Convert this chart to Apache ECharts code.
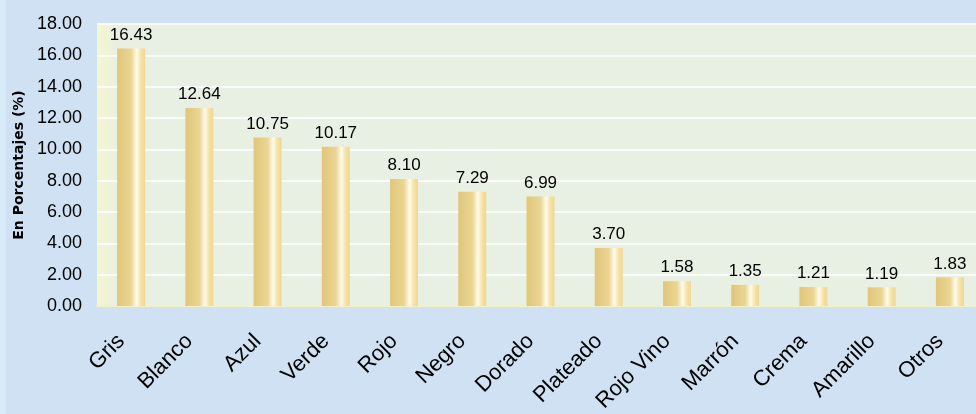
<!DOCTYPE html>
<html><head><meta charset="utf-8">
<script src="https://cdn.jsdelivr.net/npm/echarts@6/dist/echarts.min.js"></script>
<style>html,body{margin:0;padding:0;background:#cfe1f2;}#c{width:976px;height:414px;}</style>
</head><body><div id="c"></div>
<script>
const categories = ['Gris','Blanco','Azul','Verde','Rojo','Negro','Dorado','Plateado','Rojo Vino','Marrón','Crema','Amarillo','Otros'];
const values = [16.43,12.64,10.75,10.17,8.10,7.29,6.99,3.70,1.58,1.35,1.21,1.19,1.83];
const yTicks = {min:0, max:18, interval:2};

const chart = echarts.init(document.getElementById('c'), null, {renderer:'canvas'});
const font = 'Liberation Sans, Arial, sans-serif';
chart.setOption({
  backgroundColor:'#cfe1f2',
  animation:false,
  graphic:[{type:'rect', shape:{x:0,y:0,width:6,height:414}, style:{fill:'#d8ebf8'}, z:-1}],
  grid:{left:97,right:-8,top:24,bottom:108, show:true, borderWidth:0, containLabel:false, outerBoundsMode:'none',
    backgroundColor:new echarts.graphic.LinearGradient(0,0,1,0,[
      {offset:0,color:'#f4f7cf'},{offset:0.025,color:'#e8efe3'},{offset:1,color:'#e8efe3'}])},
  xAxis:{type:'category', data:categories,
    axisLine:{show:true,lineStyle:{color:'#f4f0c0',width:2}}, axisTick:{show:false},
    axisLabel:{rotate:45, margin:22, padding:[0,14,0,0], fontSize:22, color:'#000', fontFamily:font, interval:0}},
  yAxis:{type:'value', min:yTicks.min, max:yTicks.max, interval:yTicks.interval,
    name:'En Porcentajes (%)', nameLocation:'middle', nameGap:71, nameRotate:90,
    nameTextStyle:{fontSize:14, fontWeight:'bold', color:'#000', fontFamily:'DejaVu Sans, sans-serif'},
    axisLine:{show:false}, axisTick:{show:false},
    axisLabel:{fontSize:18, color:'#000', margin:15, fontFamily:font, formatter:v=>v.toFixed(2)},
    splitLine:{lineStyle:{color:'#ffffff',width:1.5}}},
  series:[{type:'bar', data:values, barWidth:'41%',
    itemStyle:{color:new echarts.graphic.LinearGradient(0,0,1,0,[
      {offset:0,color:'#e1c67a'},{offset:0.5,color:'#ead592'},{offset:0.7,color:'#fffbec'},{offset:0.85,color:'#f6e2a6'},{offset:1,color:'#f0d690'}])},
    label:{show:true, position:'top', distance:5, fontSize:17, color:'#000', fontFamily:font, formatter:p=>p.value.toFixed(2)}}]
});
</script></body></html>
